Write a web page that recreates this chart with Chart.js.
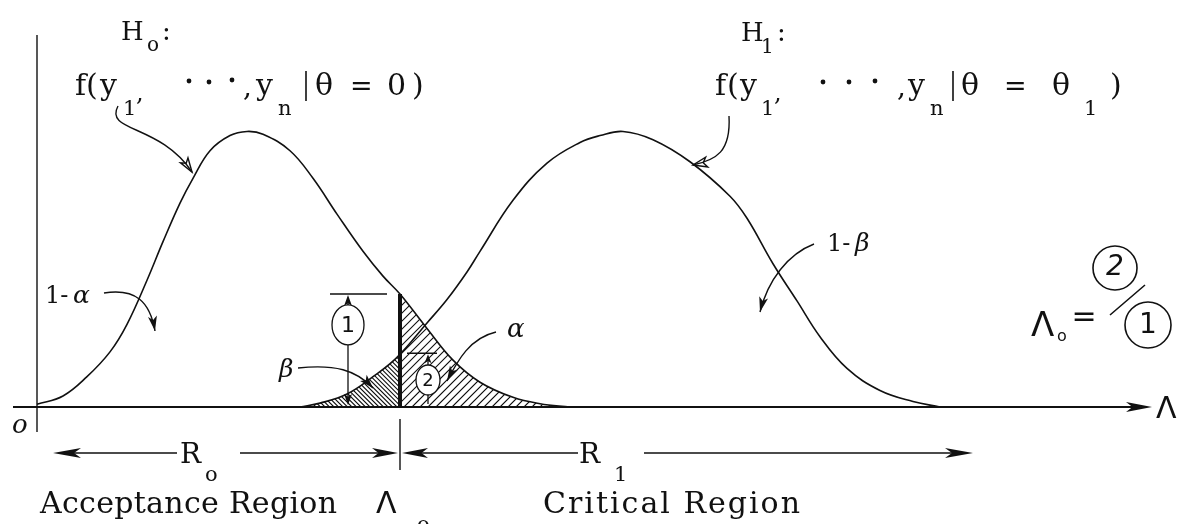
<!DOCTYPE html>
<html>
<head>
<meta charset="utf-8">
<script src="https://cdn.jsdelivr.net/npm/chart.js@4.4.0/dist/chart.umd.min.js"></script>
<style>
    html, body { margin: 0; padding: 0; background: #fff; }
    #wrap { width: 1186px; height: 524px; }
</style>
</head>
<body>
<div id="wrap"><canvas id="test-chart"></canvas></div>
<script>
// H0 curve: f(y1..yn | theta = 0)
var lambdaH0 = [0, 2.6, 5.0, 7.3, 9.0, 11.0, 12.6, 14.3, 15.6, 17.3, 19.3, 21.0, 22.6, 25.3, 27.6, 30.0, 32.6, 34.6, 36.3, 39.0, 41.6, 44.3, 47.6, 50.3, 53.3];
var densityH0 = [0.01, 0.04, 0.11, 0.2, 0.3, 0.46, 0.6, 0.74, 0.83, 0.93, 0.985, 1.0, 0.99, 0.93, 0.83, 0.7, 0.565, 0.475, 0.41, 0.285, 0.17, 0.09, 0.035, 0.012, 0.0];

// H1 curve: f(y1..yn | theta = theta1)
var lambdaH1 = [26.3, 28.3, 31.0, 33.6, 36.0, 39.0, 41.0, 43.0, 44.3, 47.6, 51.0, 54.3, 56.3, 58.6, 61.6, 65.3, 69.3, 71.0, 73.6, 76.0, 78.3, 81.0, 84.3, 87.6, 90.3];
var densityH1 = [0.0, 0.014, 0.047, 0.11, 0.18, 0.305, 0.39, 0.49, 0.565, 0.75, 0.885, 0.96, 0.985, 1.0, 0.97, 0.89, 0.765, 0.685, 0.52, 0.385, 0.255, 0.14, 0.06, 0.02, 0.0];

// critical value and the two heights at it
var lambdaCut = 36.3;
var heightH0AtCut = 0.41;   // (1)
var heightH1AtCut = 0.195;  // (2)

var xMax = 111.3;
var yMax = 1.35;

var INK = '#111';
var SERIF = '"DejaVu Serif", "Liberation Serif", serif';
var SANS = '"DejaVu Sans", "Liberation Sans", sans-serif';

function toPoints(xs, ys) {
    var out = [];
    for (var i = 0; i < xs.length; i++) {
        out.push({ x: xs[i], y: ys[i] });
    }
    return out;
}

function put(ctx, s, x, y, size, family, style) {
    ctx.font = (style || '') + ' ' + size + 'px ' + (family || SERIF);
    ctx.fillText(s, x, y);
}

// spread a label over a given width, like the typed original
function spread(ctx, s, x0, x1, y, size) {
    ctx.font = size + 'px ' + SERIF;
    var widths = [], total = 0;
    for (var i = 0; i < s.length; i++) {
        widths.push(ctx.measureText(s[i]).width);
        total += widths[i];
    }
    var gap = (x1 - x0 - total) / (s.length - 1);
    var x = x0;
    for (var j = 0; j < s.length; j++) {
        ctx.fillText(s[j], x, y);
        x += widths[j] + gap;
    }
}

function head(ctx, tx, ty, ang, len, wid, hollow) {
    var c = Math.cos(ang), s = Math.sin(ang);
    ctx.beginPath();
    ctx.moveTo(tx, ty);
    ctx.lineTo(tx - len * c + wid * s, ty - len * s - wid * c);
    ctx.lineTo(tx - len * 0.75 * c, ty - len * 0.75 * s);
    ctx.lineTo(tx - len * c - wid * s, ty - len * s + wid * c);
    ctx.closePath();
    if (hollow) {
        ctx.stroke();
    } else {
        ctx.fill();
    }
}

function curvedArrow(ctx, p0, c1, c2, p1, len, wid, hollow) {
    ctx.beginPath();
    ctx.moveTo(p0[0], p0[1]);
    ctx.bezierCurveTo(c1[0], c1[1], c2[0], c2[1], p1[0], p1[1]);
    ctx.stroke();
    head(ctx, p1[0], p1[1], Math.atan2(p1[1] - c2[1], p1[0] - c2[0]), len, wid, hollow);
}

function drawTail(chart, index, x0, x1, gap, dir) {
    var ctx = chart.ctx;
    var meta = chart.getDatasetMeta(index);
    var line = meta.dataset;
    var pts = meta.data;
    var area = chart.chartArea;
    var base = chart.scales.y.getPixelForValue(0);

    line.updateControlPoints(area, 'x');
    ctx.save();
    ctx.beginPath();
    ctx.rect(x0, area.top, x1 - x0, base - area.top);
    ctx.clip();
    ctx.beginPath();
    if (typeof line.path === 'function') {
        line.path(ctx);
    } else {
        ctx.moveTo(pts[0].x, pts[0].y);
        for (var i = 1; i < pts.length; i++) ctx.lineTo(pts[i].x, pts[i].y);
    }
    ctx.lineTo(pts[pts.length - 1].x, base);
    ctx.lineTo(pts[0].x, base);
    ctx.closePath();
    ctx.clip();

    ctx.strokeStyle = INK;
    ctx.lineWidth = 1.1;
    ctx.beginPath();
    var h = base - area.top;
    for (var s = x0 - h; s < x1 + h; s += gap) {
        if (dir > 0) {
            ctx.moveTo(s, base);
            ctx.lineTo(s + h, base - h);
        } else {
            ctx.moveTo(s, base - h);
            ctx.lineTo(s + h, base);
        }
    }
    ctx.stroke();
    ctx.restore();
}

var framePlugin = {
    id: 'frame',
    beforeDatasetsDraw: function (chart) {
        var ctx = chart.ctx;
        var xs = chart.scales.x, ys = chart.scales.y;
        var base = ys.getPixelForValue(0);
        var cut = xs.getPixelForValue(lambdaCut);

        // beta: H1 left of the cut, alpha: H0 right of the cut
        drawTail(chart, 1, xs.left, cut, 4.5, -1);
        drawTail(chart, 0, cut, xs.right, 8, 1);

        ctx.save();
        ctx.strokeStyle = INK;
        ctx.fillStyle = INK;
        ctx.lineWidth = 1.8;
        ctx.beginPath();
        ctx.moveTo(13, base);
        ctx.lineTo(xs.right - 10, base);
        ctx.stroke();
        head(ctx, xs.right + 2, base, 0, 26, 5, false);
        ctx.lineWidth = 1.4;
        ctx.beginPath();
        ctx.moveTo(xs.left, ys.top);
        ctx.lineTo(xs.left, base + 25);
        ctx.stroke();
        ctx.restore();
    }
};

var notesPlugin = {
    id: 'notes',
    afterDatasetsDraw: function (chart) {
        var ctx = chart.ctx;
        var xs = chart.scales.x, ys = chart.scales.y;
        var X = function (v) { return xs.getPixelForValue(v); };
        var Y = function (v) { return ys.getPixelForValue(v); };
        var base = Y(0);
        var cut = X(lambdaCut);

        ctx.save();
        ctx.strokeStyle = INK;
        ctx.fillStyle = INK;
        ctx.textBaseline = 'alphabetic';
        ctx.textAlign = 'left';

        // thick line at the critical value
        ctx.lineWidth = 4;
        ctx.beginPath();
        ctx.moveTo(cut, Y(heightH0AtCut));
        ctx.lineTo(cut, base);
        ctx.stroke();

        // dimension (1)
        ctx.lineWidth = 1.3;
        var d1 = X(31.1);
        ctx.beginPath();
        ctx.moveTo(X(29.3), Y(heightH0AtCut));
        ctx.lineTo(X(35.0), Y(heightH0AtCut));
        ctx.moveTo(d1, Y(heightH0AtCut) + 4);
        ctx.lineTo(d1, Y(0.298) - 20);
        ctx.moveTo(d1, Y(0.298) + 20);
        ctx.lineTo(d1, base - 6);
        ctx.stroke();
        head(ctx, d1, Y(heightH0AtCut) + 1, -Math.PI / 2, 11, 4, false);
        head(ctx, d1, base - 2, Math.PI / 2, 11, 4, false);
        ctx.beginPath();
        ctx.ellipse(d1, Y(0.298), 16, 20, 0, 0, Math.PI * 2);
        ctx.stroke();
        ctx.textAlign = 'center';
        ctx.textBaseline = 'middle';
        put(ctx, '1', d1, Y(0.298) + 1, 22, SANS);

        // dimension (2)
        var d2 = X(39.1);
        ctx.beginPath();
        ctx.moveTo(X(37.0), Y(heightH1AtCut));
        ctx.lineTo(X(40.0), Y(heightH1AtCut));
        ctx.moveTo(d2, Y(heightH1AtCut) + 4);
        ctx.lineTo(d2, Y(0.098) - 15);
        ctx.moveTo(d2, Y(0.098) + 15);
        ctx.lineTo(d2, base - 3);
        ctx.stroke();
        head(ctx, d2, Y(heightH1AtCut) + 1, -Math.PI / 2, 9, 3.5, false);
        ctx.beginPath();
        ctx.ellipse(d2, Y(0.098), 12, 15, 0, 0, Math.PI * 2);
        ctx.fillStyle = '#fff';
        ctx.fill();
        ctx.fillStyle = INK;
        ctx.stroke();
        put(ctx, '2', d2, Y(0.098) + 1, 18, SANS);

        // ratio at right
        ctx.lineWidth = 1.6;
        ctx.beginPath();
        ctx.arc(1115, 268, 22, 0, Math.PI * 2);
        ctx.moveTo(1171, 325);
        ctx.arc(1148, 325, 23, 0, Math.PI * 2);
        ctx.moveTo(1110, 315);
        ctx.lineTo(1145, 285);
        ctx.stroke();
        put(ctx, '2', 1115, 268, 28, SANS, 'italic');
        put(ctx, '1', 1148, 326, 28, SANS);
        put(ctx, '=', 1084, 318, 30, SANS);
        ctx.textAlign = 'left';
        ctx.textBaseline = 'alphabetic';
        put(ctx, 'Λ', 1031, 336, 34, SANS);
        put(ctx, 'o', 1057, 341, 16, SANS);

        // axis labels
        put(ctx, 'Λ', 1156, 418, 30, SANS);
        put(ctx, 'o', 12, 433, 26, SERIF, 'italic');

        // region arrows
        var row = 453;
        ctx.lineWidth = 1.4;
        ctx.beginPath();
        ctx.moveTo(70, row); ctx.lineTo(177, row);
        ctx.moveTo(240, row); ctx.lineTo(385, row);
        ctx.moveTo(414, row); ctx.lineTo(578, row);
        ctx.moveTo(644, row); ctx.lineTo(960, row);
        ctx.moveTo(cut, 419); ctx.lineTo(cut, 470);
        ctx.stroke();
        head(ctx, 53, row, Math.PI, 28, 5, false);
        head(ctx, cut - 2, row, 0, 26, 5, false);
        head(ctx, cut + 2, row, Math.PI, 26, 5, false);
        head(ctx, 973, row, 0, 28, 5, false);

        put(ctx, 'R', 180, 463, 28);
        put(ctx, 'o', 205, 481, 21);
        put(ctx, 'R', 579, 463, 28);
        put(ctx, '1', 614, 481, 21);

        spread(ctx, 'Acceptance Region', 40, 337, 513, 30);
        spread(ctx, 'Critical Region', 543, 800, 513, 30);
        put(ctx, 'Λ', 376, 513, 30, SANS);
        put(ctx, 'o', 417, 531, 21);

        // H0 heading
        put(ctx, 'H', 121, 40, 26);
        put(ctx, 'o', 147, 51, 20);
        put(ctx, ':', 162, 40, 26);
        put(ctx, 'f', 75, 95, 30);
        put(ctx, '(', 86, 95, 30);
        put(ctx, 'y', 100, 95, 30);
        put(ctx, '1', 123, 115, 21);
        put(ctx, ',', 136, 101, 24);
        put(ctx, ',', 243, 96, 28);
        put(ctx, 'y', 256, 95, 30);
        put(ctx, 'n', 278, 115, 21);
        put(ctx, 'θ', 315, 95, 30);
        put(ctx, '=', 350, 95, 27);
        put(ctx, '0', 387, 95, 30);
        put(ctx, ')', 412, 95, 30);

        // H1 heading
        put(ctx, 'H', 741, 41, 26);
        put(ctx, '1', 761, 53, 20);
        put(ctx, ':', 777, 41, 26);
        put(ctx, 'f', 715, 95, 30);
        put(ctx, '(', 727, 95, 30);
        put(ctx, 'y', 740, 95, 30);
        put(ctx, '1', 761, 115, 21);
        put(ctx, ',', 774, 101, 24);
        put(ctx, ',', 897, 96, 28);
        put(ctx, 'y', 908, 95, 30);
        put(ctx, 'n', 930, 115, 21);
        put(ctx, 'θ', 961, 95, 30);
        put(ctx, '=', 1004, 95, 27);
        put(ctx, 'θ', 1052, 95, 30);
        put(ctx, '1', 1084, 115, 21);
        put(ctx, ')', 1110, 95, 30);

        // raised dots and bars
        [[189, 81], [209, 82], [232, 80], [823, 82], [849, 82], [875, 81]].forEach(function (d) {
            ctx.beginPath();
            ctx.arc(d[0], d[1], 2.4, 0, Math.PI * 2);
            ctx.fill();
        });
        ctx.lineWidth = 1.6;
        ctx.beginPath();
        ctx.moveTo(306, 71); ctx.lineTo(306, 101);
        ctx.moveTo(953, 71); ctx.lineTo(953, 101);
        ctx.stroke();

        // labels with curved arrows
        put(ctx, '1-', 45, 303, 24, SERIF);
        put(ctx, 'α', 73, 303, 25, SERIF, 'italic');
        put(ctx, '1-', 827, 251, 24, SERIF);
        put(ctx, 'β', 855, 251, 25, SERIF, 'italic');
        put(ctx, 'α', 507, 337, 26, SERIF, 'italic');
        put(ctx, 'β', 279, 377, 25, SERIF, 'italic');

        ctx.lineWidth = 1.4;
        curvedArrow(ctx, [118, 106], [104, 132], [160, 124], [192, 172], 14, 4.5, true);
        curvedArrow(ctx, [729, 116], [731, 152], [716, 160], [693, 165], 14, 5, true);
        curvedArrow(ctx, [104, 293], [136, 288], [150, 302], [155, 331], 15, 4.5, false);
        curvedArrow(ctx, [814, 244], [788, 254], [768, 280], [760, 312], 15, 4.5, false);
        curvedArrow(ctx, [496, 332], [470, 338], [458, 360], [447, 381], 15, 4.5, false);
        curvedArrow(ctx, [298, 368], [335, 364], [356, 370], [373, 388], 14, 4.5, false);

        ctx.restore();
    }
};

var ctx = document.getElementById('test-chart');
var NeymanPearsonChart = new Chart(ctx, {
    type: 'line',
    data: {
        datasets: [{
            label: 'H0',
            data: toPoints(lambdaH0, densityH0),
            borderColor: INK,
            borderWidth: 1.6,
            tension: 0.4,
            pointRadius: 0,
            fill: false,
            clip: false
        }, {
            label: 'H1',
            data: toPoints(lambdaH1, densityH1),
            borderColor: INK,
            borderWidth: 1.6,
            tension: 0.4,
            pointRadius: 0,
            fill: false,
            clip: false
        }]
    },
    plugins: [framePlugin, notesPlugin],
    options: {
        responsive: true,
        maintainAspectRatio: false,
        animation: false,
        devicePixelRatio: 1,
        layout: {
            padding: { left: 37, right: 36, top: 35, bottom: 117 }
        },
        plugins: {
            legend: false,
            tooltip: { enabled: false }
        },
        scales: {
            x: { type: 'linear', min: 0, max: xMax, display: false },
            y: { min: 0, max: yMax, display: false }
        }
    }
});
</script>
</body>
</html>
